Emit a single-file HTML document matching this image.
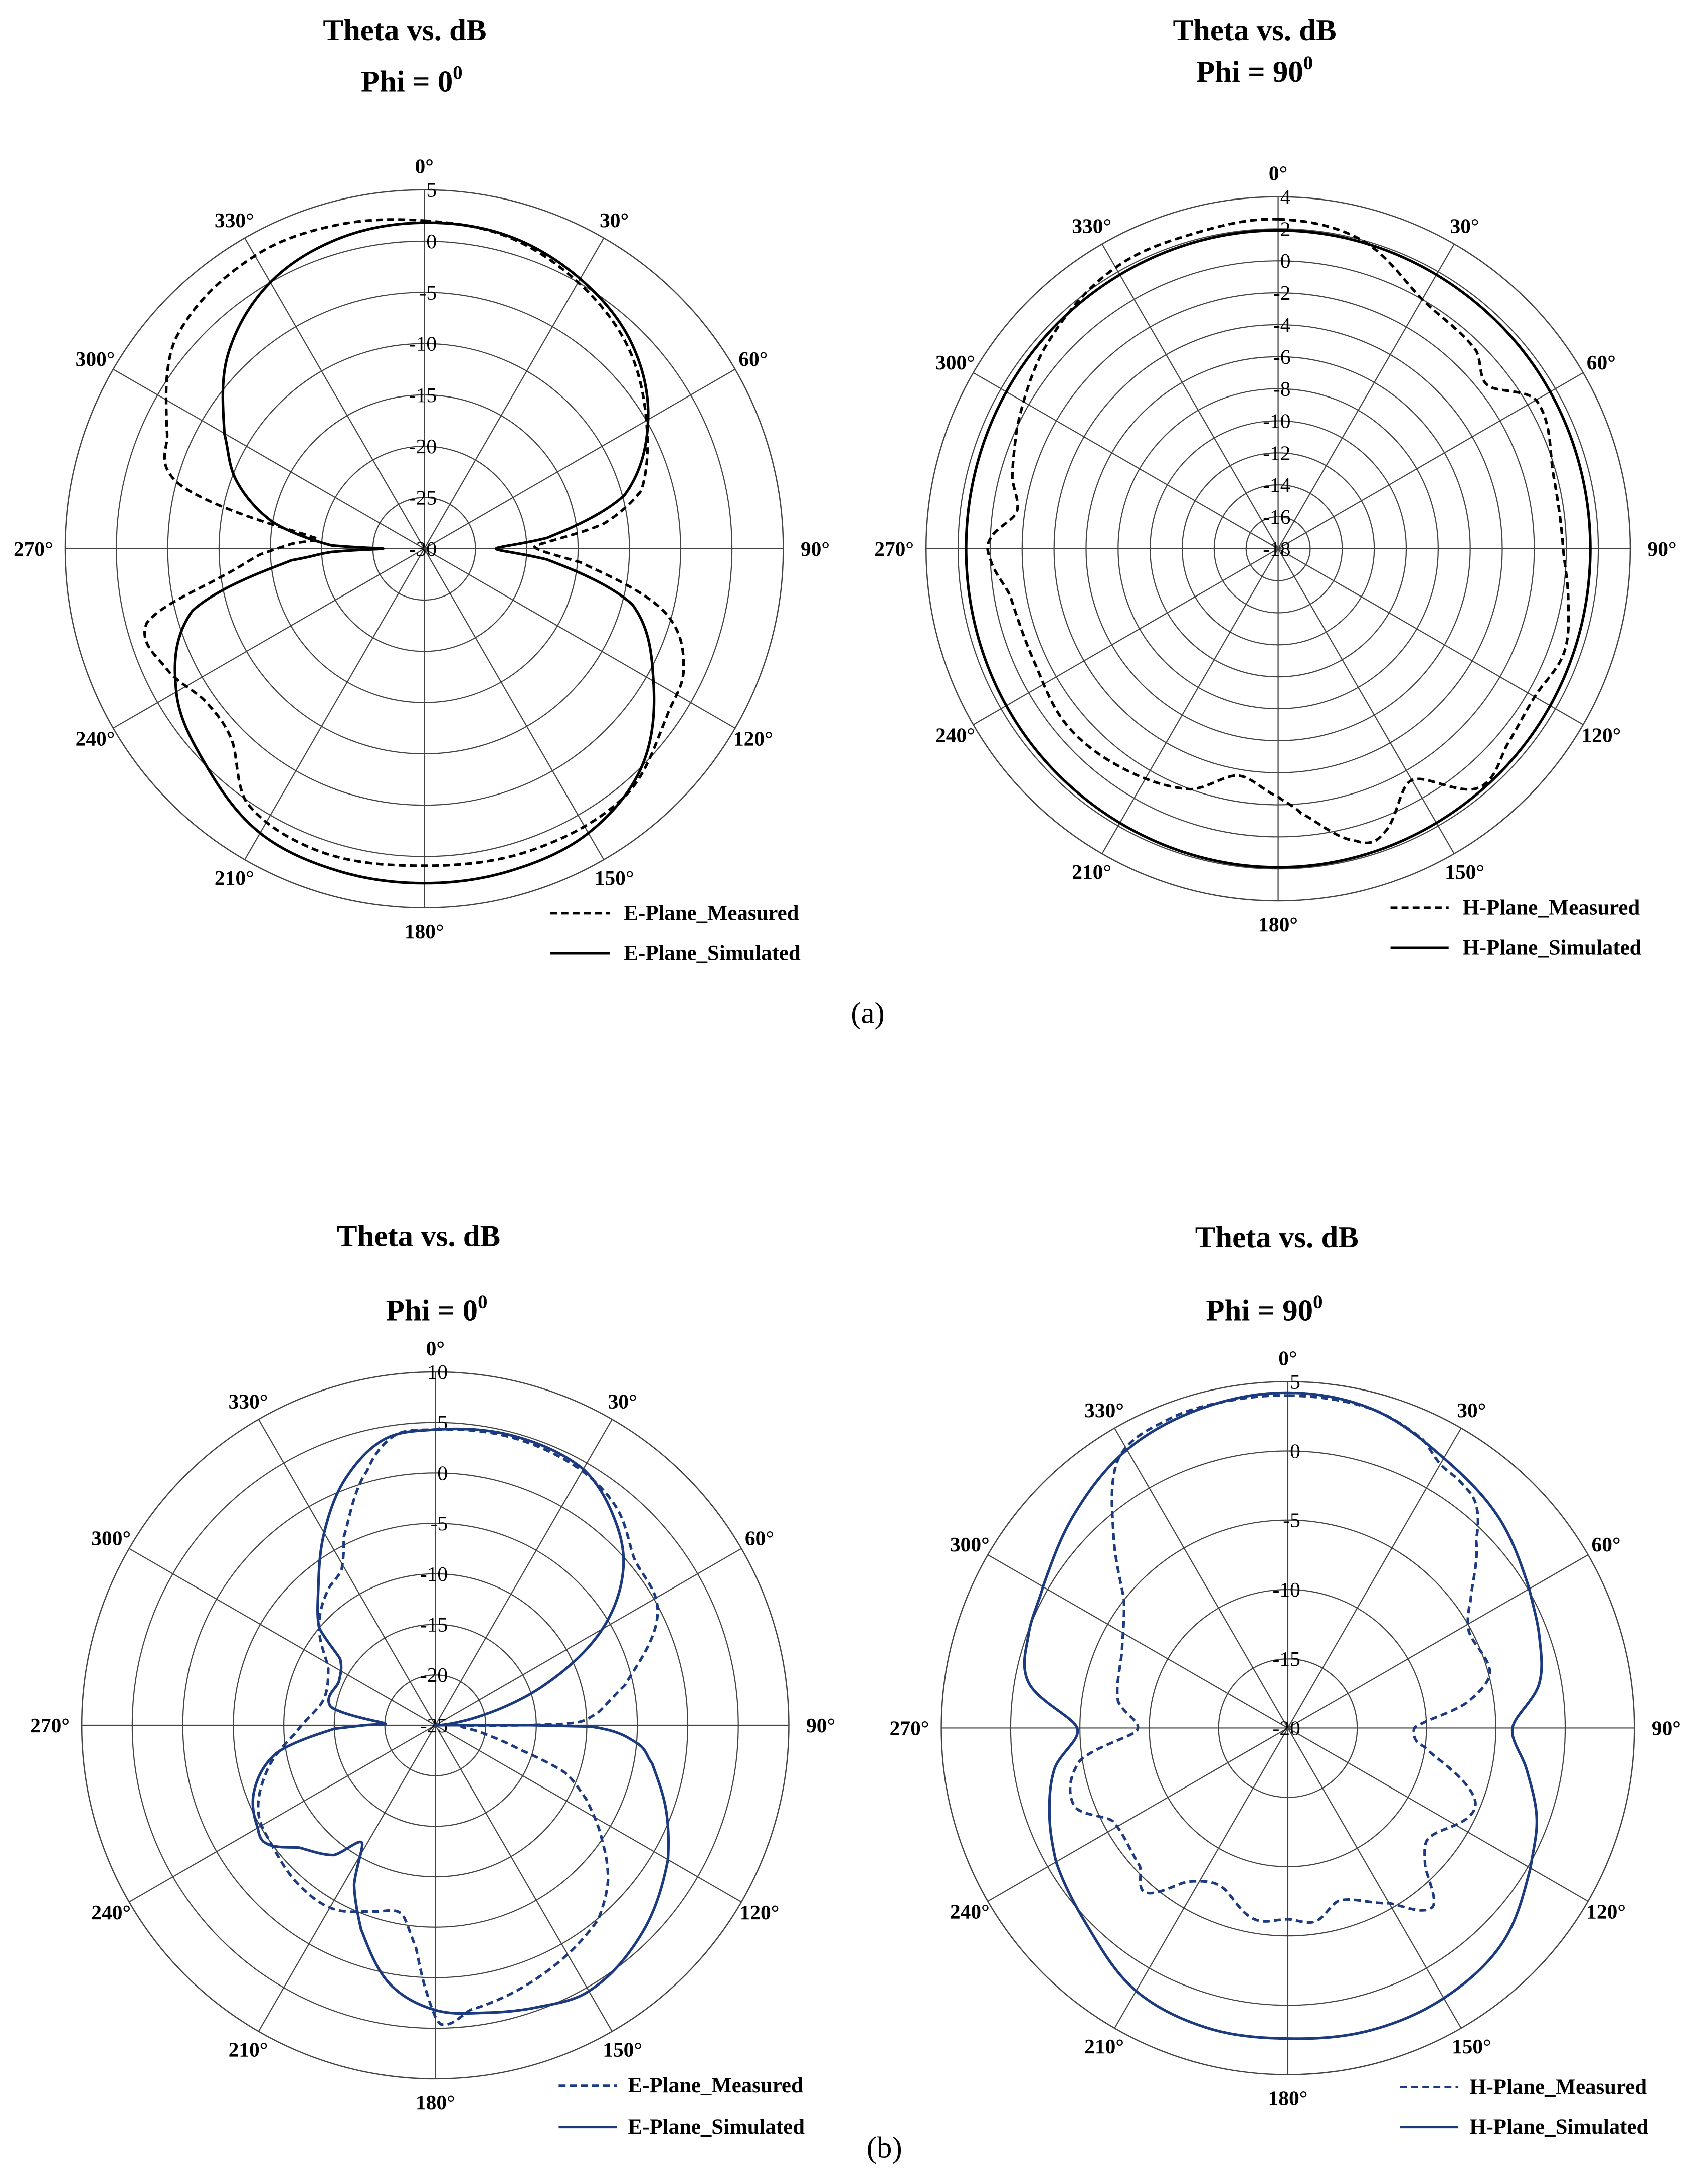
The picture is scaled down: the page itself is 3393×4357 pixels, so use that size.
<!DOCTYPE html>
<html><head><meta charset="utf-8">
<style>
html,body{margin:0;padding:0;background:#fff;}
svg{display:block;}
text{font-family:"Liberation Serif",serif;}
.t{font-size:22px;font-weight:bold;text-anchor:middle;}
.a{font-size:15px;font-weight:bold;text-anchor:middle;dominant-baseline:central;}
.d{font-size:15px;text-anchor:end;dominant-baseline:central;}
.l{font-size:15.5px;font-weight:bold;dominant-baseline:central;}
</style></head>
<body>
<svg id="s" width="3393" height="4357" viewBox="0 0 1227 1576" preserveAspectRatio="none" xmlns="http://www.w3.org/2000/svg">
<text class="t" x="292" y="29">Theta vs. dB</text>
<text class="t" x="297" y="66">Phi = 0<tspan font-size="14" dy="-9">0</tspan></text>
<text class="t" x="905" y="29">Theta vs. dB</text>
<text class="t" x="905" y="59">Phi = 90<tspan font-size="14" dy="-9">0</tspan></text>
<text x="626" y="738" font-size="22" text-anchor="middle">(a)</text>
<text class="t" x="302" y="899">Theta vs. dB</text>
<text class="t" x="315" y="953">Phi = 0<tspan font-size="14" dy="-9">0</tspan></text>
<text class="t" x="921" y="900">Theta vs. dB</text>
<text class="t" x="912" y="953">Phi = 90<tspan font-size="14" dy="-9">0</tspan></text>
<text x="638" y="1557" font-size="22" text-anchor="middle">(b)</text>

<g id="legend">
<line x1="397" y1="659" x2="440" y2="659" stroke="#000" stroke-width="1.8" stroke-dasharray="5,3"/>
<text class="l" x="450" y="659">E-Plane_Measured</text>
<line x1="397" y1="688" x2="440" y2="688" stroke="#000" stroke-width="1.8"/>
<text class="l" x="450" y="688">E-Plane_Simulated</text>
<line x1="1003" y1="655" x2="1045" y2="655" stroke="#000" stroke-width="1.8" stroke-dasharray="5,3"/>
<text class="l" x="1055" y="655">H-Plane_Measured</text>
<line x1="1003" y1="684" x2="1045" y2="684" stroke="#000" stroke-width="1.8"/>
<text class="l" x="1055" y="684">H-Plane_Simulated</text>
<line x1="403" y1="1505" x2="445" y2="1505" stroke="#1b3a80" stroke-width="1.8" stroke-dasharray="5,3"/>
<text class="l" x="453" y="1505">E-Plane_Measured</text>
<line x1="403" y1="1535" x2="445" y2="1535" stroke="#1b3a80" stroke-width="1.8"/>
<text class="l" x="453" y="1535">E-Plane_Simulated</text>
<line x1="1010" y1="1506" x2="1052" y2="1506" stroke="#1b3a80" stroke-width="1.8" stroke-dasharray="5,3"/>
<text class="l" x="1060" y="1506">H-Plane_Measured</text>
<line x1="1010" y1="1535" x2="1052" y2="1535" stroke="#1b3a80" stroke-width="1.8"/>
<text class="l" x="1060" y="1535">H-Plane_Simulated</text>
</g>
</svg>
<script>
(function(){
var svg=document.getElementById('s'),NS='http://www.w3.org/2000/svg';
function el(n,a,txt){var e=document.createElementNS(NS,n);for(var k in a)e.setAttribute(k,a[k]);if(txt!==undefined)e.textContent=txt;svg.appendChild(e);return e;}
function interp(pts,ang){
  var n=pts.length,i=0;
  var P=function(j){j=((j%n)+n)%n;return pts[j];};
  for(i=0;i<n;i++){var a0=pts[i][0],a1=(i+1<n?pts[i+1][0]:pts[0][0]+360);var aa=ang;if(aa<pts[0][0])aa+=360;if(aa>=a0&&aa<=a1)break;}
  if(i>=n)i=n-1;
  var p0=P(i-1),p1=P(i),p2=P(i+1),p3=P(i+2);
  var a1=p1[0],a2=p2[0];if(a2<a1)a2+=360;
  var aa2=ang;if(aa2<a1)aa2+=360;
  var t=(a2-a1)?(aa2-a1)/(a2-a1):0;
  var y0=p0[1],y1=p1[1],y2=p2[1],y3=p3[1];
  var t2=t*t,t3=t2*t;
  return 0.5*((2*y1)+(-y0+y2)*t+(2*y0-5*y1+4*y2-y3)*t2+(-y0+3*y1-3*y2+y3)*t3);
}
function polar(o){
  var cx=o.cx,cy=o.cy,R=o.R;
  var nr=Math.round((o.max-o.min)/o.step);
  for(var k=1;k<=nr;k++){el('circle',{cx:cx,cy:cy,r:R*k/nr,fill:'none',stroke:'#444','stroke-width':k==nr?0.9:0.8});}
  for(var a=0;a<360;a+=30){var r=a*Math.PI/180;el('line',{x1:cx,y1:cy,x2:cx+R*Math.sin(r),y2:cy-R*Math.cos(r),stroke:'#444','stroke-width':0.8});
    var lr=R+(a%90==0?17:15);el('text',{'class':'a',x:cx+lr*Math.sin(r)+(a==90?6:a==270?-6:0),y:cy-lr*Math.cos(r)},a+'\u00B0');}
  for(var k=0;k<=nr;k++){var v=o.min+k*o.step;el('text',{'class':'d',x:cx+9,y:cy-R*k/nr},String(v));}
  o.curves.forEach(function(c){
    var d='';
    for(var a=0;a<=360;a+=0.5){var db=interp(c.p,a%360);var rr=R*(db-o.min)/(o.max-o.min);if(rr<0)rr=0;if(rr>R)rr=R;var r=a*Math.PI/180;
      d+=(a==0?'M':'L')+(cx+rr*Math.sin(r)).toFixed(2)+','+(cy-rr*Math.cos(r)).toFixed(2);}
    var at={d:d+'Z',fill:'none',stroke:o.col,'stroke-width':1.9,'stroke-linejoin':'round'};
    if(c.dash)at['stroke-dasharray']='5,3';
    el('path',at);
  });
}
var K='#000',B='#1b3a80';
polar({cx:306,cy:396,R:259,min:-30,max:5,step:5,col:K,curves:[
 {p:[[0,1.8],[15,1.6],[30,0.4],[45,-1.5],[60,-4.8],[75,-9.8],[85,-18],[90,-23],[95,-18],[105,-9],[120,-4.2],[135,0],[150,2],[165,2.5],[180,2.6],[195,2.5],[210,2],[225,0],[240,-2.1],[255,-6.6],[265,-17],[268,-21],[270,-26],[272,-21],[280,-15],[290,-10.5],[300,-7.5],[315,-3],[330,0],[345,1.4]]},
 {dash:1,p:[[0,2],[15,1.5],[30,0],[45,-2],[60,-5],[75,-8.1],[82,-12.3],[87,-18],[90,-19],[95,-14.7],[105,-5.6],[115,-2.1],[125,-1.2],[140,1],[160,1.2],[180,0.9],[200,1.2],[215,0.2],[225,-3.5],[235,-4],[245,-2.3],[255,-2],[262,-9.9],[268,-14],[272,-17],[276,-19],[285,-5.1],[295,-2.3],[310,1.7],[330,3],[345,2.7]]}
]});
polar({cx:922,cy:396,R:254,min:-18,max:4,step:2,col:K,curves:[
 {p:[[0,1.9],[45,1.7],[90,1.5],[135,1.7],[180,1.9],[225,1.7],[270,1.5],[315,1.7]]},
 {dash:1,p:[[0,2.6],[15,2],[30,0],[45,-0.5],[52,-1.4],[60,0.6],[75,-0.2],[90,-0.2],[100,0.4],[110,1],[120,0.5],[130,0.8],[140,1.5],[150,-1.3],[160,1],[165,0.9],[175,-1.4],[180,-2.5],[190,-3.6],[200,-2],[215,-1.2],[230,-0.8],[245,-1.2],[260,-1],[268,0],[272,0],[278,-1.5],[285,-0.8],[295,0],[310,1.2],[330,2.3],[345,2.4]]}
]});
polar({cx:314,cy:1245,R:255,min:-25,max:10,step:5,col:B,curves:[
 {p:[[0,4.3],[15,4.7],[30,4.3],[40,2.3],[50,-0.7],[60,-5.9],[70,-13.7],[80,-21.4],[88,-24.5],[89.5,-24.8],[90.3,-10],[95,-5],[100,-3.2],[110,-0.7],[120,1.6],[135,4],[150,5.4],[160,4.7],[170,3.9],[180,3.2],[190,1],[200,-3.5],[207,-7.3],[212,-11.3],[218,-8.7],[228,-6.9],[235,-4.6],[240,-4.7],[250,-5.9],[260,-9],[268,-15],[270,-18],[272,-20],[280,-14.5],[295,-14.5],[305,-13.5],[310,-10],[320,-7],[330,-3],[340,1],[350,3.8]]},
 {dash:1,p:[[0,4.3],[15,4.5],[30,4.1],[40,3],[50,0.7],[63,-0.3],[78,-5.8],[86,-9],[89.3,-11.7],[91,-22],[100,-20],[106,-16.3],[110,-11.4],[116,-8.4],[125,-4.8],[132,-2],[140,0.1],[157,1.9],[173,3.4],[179,4.6],[182,1.3],[185,-2.9],[190,-6],[197,-5.7],[209,-4.2],[220,-4.2],[233,-4.9],[244,-5.5],[256,-8],[267,-11.2],[282,-13.6],[298,-13],[310,-10],[321,-8],[329,-7],[334,-4.3],[345,1.1],[352,4]]}
]});
polar({cx:929,cy:1247,R:250,min:-20,max:5,step:5,col:B,curves:[
 {p:[[0,4.2],[15,3.8],[30,2.5],[45,1.5],[60,0.1],[70,-0.7],[80,-1.6],[90,-3.8],[100,-2.5],[110,-0.9],[120,0.2],[135,1.9],[150,2.5],[165,2.6],[180,2.4],[195,2.4],[210,1.9],[225,0.35],[240,-0.7],[250,-1.7],[260,-2.9],[270,-4.8],[280,-1],[290,-0.1],[300,0.4],[315,1.8],[330,3.2],[345,3.9]]},
 {dash:1,p:[[0,4],[15,3.8],[25,3],[30,2],[35,1.7],[40,1.1],[45,-0.8],[55,-3.9],[62,-5.2],[75,-4.9],[82,-7],[88,-10.3],[92,-10.9],[98,-10],[112,-5.4],[128,-7.1],[135,-6],[141,-3.4],[150,-5.4],[163,-7],[172,-5.9],[180,-6.2],[190,-6],[203,-7.6],[213,-6.8],[221,-4.3],[227,-5.4],[242,-5.7],[250,-3.6],[261,-4.8],[269,-9.1],[279,-7.6],[295,-6.8],[308,-5],[318,-1.2],[328,3],[339,3.9],[350,4]]}
]});
svg.appendChild(document.getElementById('legend'));
})();
</script>
</body></html>
